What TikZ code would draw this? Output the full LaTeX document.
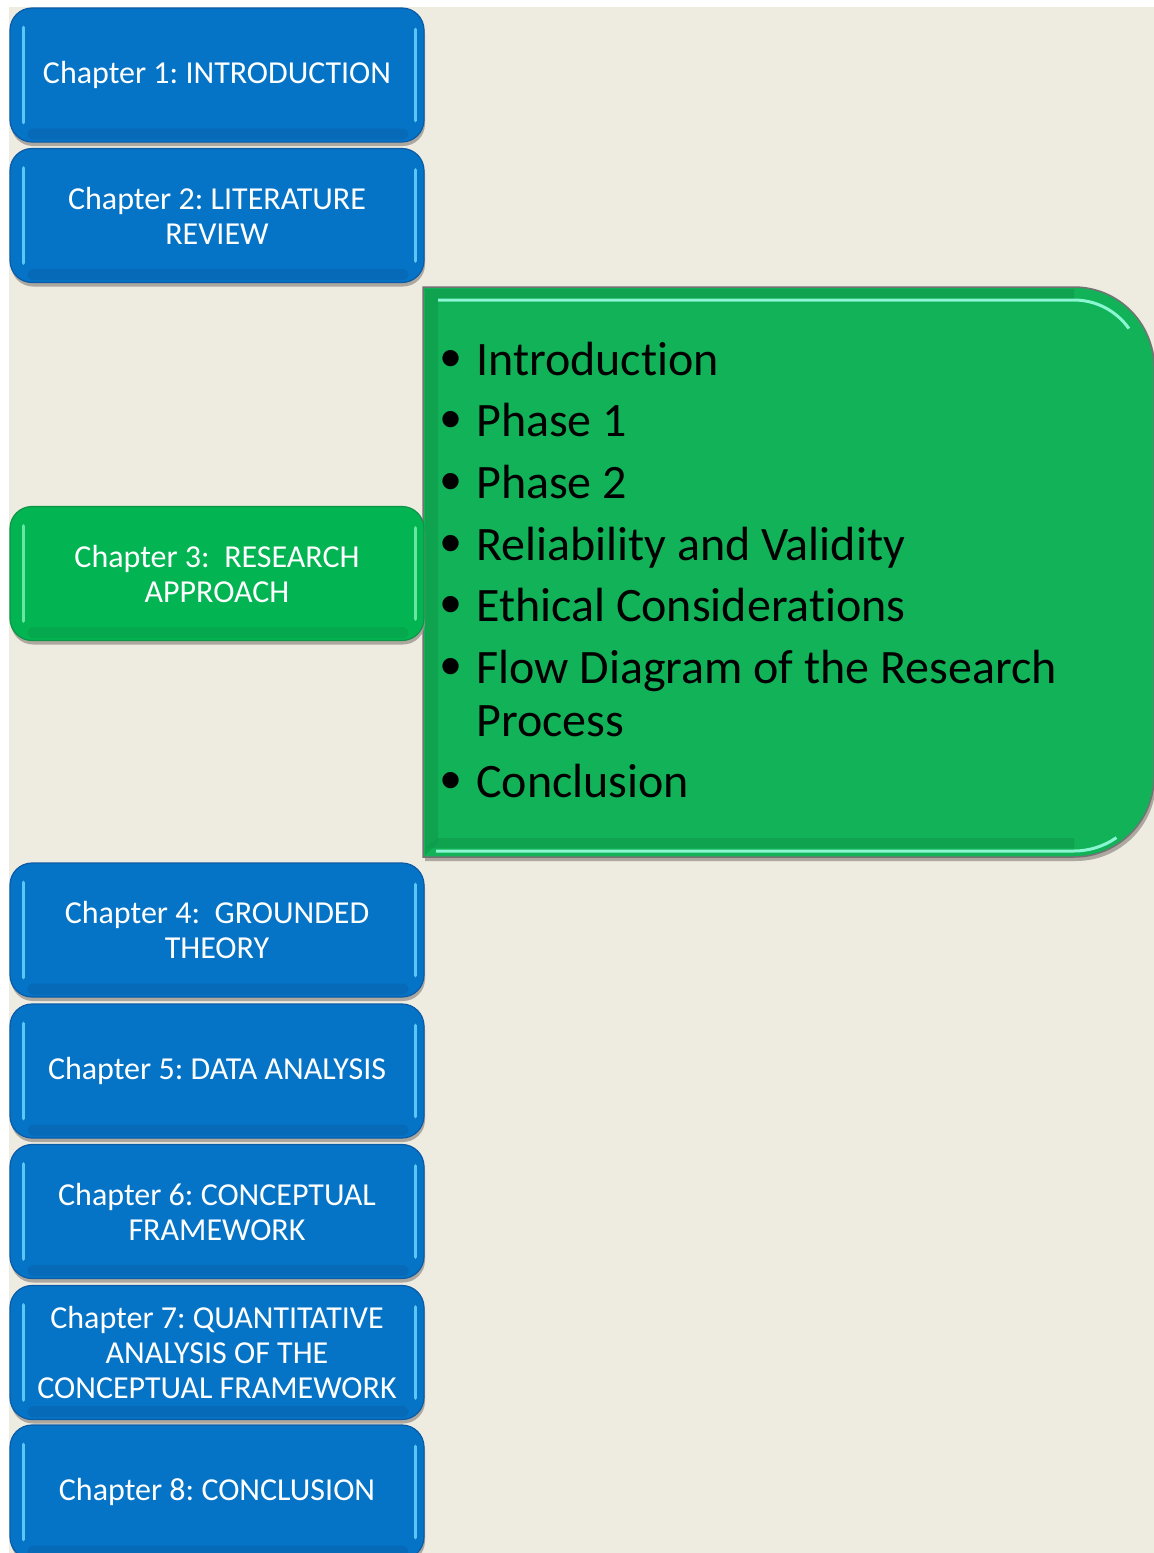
\documentclass[tikz,border=0pt]{standalone}
\usepackage{fontspec}
\setmainfont{Carlito}[Ligatures={NoCommon,NoContextual,NoRare}]
\newfontfamily\bulletfont{Liberation Sans}
\usetikzlibrary{shadows}
\frenchspacing

\definecolor{pagebeige}{HTML}{EEEBE0}
\definecolor{chapblue}{HTML}{0574C6}
\definecolor{chapblueedge}{HTML}{0B5BA6}
\definecolor{chapbluehi}{HTML}{5CC6F8}
\definecolor{chapbluelo}{HTML}{0A5FA8}
\definecolor{chapgreen}{HTML}{02B552}
\definecolor{chapgreenedge}{HTML}{0E9447}
\definecolor{chapgreenhi}{HTML}{66E8A2}
\definecolor{chapgreenlo}{HTML}{0A9A48}
\definecolor{panelgreen}{HTML}{12B258}
\definecolor{paneldark}{HTML}{0E9A4C}
\definecolor{panelmint}{HTML}{8AF7D2}
\definecolor{shadowc}{HTML}{9C9890}

% bevel highlights drawn over a chapter box
\newcommand\bevelhi[3]{%
  \fill[#3, opacity=.45, rounded corners=6pt]
    ([xshift=18pt,yshift=14pt]#1.south west) rectangle ([xshift=-16pt,yshift=3pt]#1.south east);
  \draw[#2, line width=3.5pt, line cap=round]
    ([xshift=14pt,yshift=-20pt]#1.north west) -- ([xshift=14pt,yshift=20pt]#1.south west);
  \draw[#2, line width=3.5pt, line cap=round]
    ([xshift=-9pt,yshift=-22pt]#1.north east) -- ([xshift=-9pt,yshift=22pt]#1.south east);
}

\begin{document}
\begin{tikzpicture}[x=1pt,y=-1pt,
  chap/.style={rounded corners=22pt, minimum width=414pt, minimum height=134pt,
    inner sep=0pt, align=center, text=white, line width=1.2pt,
    font=\fontsize{32}{35}\selectfont,
    drop shadow={shadow xshift=1pt, shadow yshift=-4pt, fill=shadowc, opacity=.8}},
  bluechap/.style={chap, fill=chapblue, draw=chapblueedge},
  greenchap/.style={chap, fill=chapgreen, draw=chapgreenedge},
  item/.style={anchor=base west, inner sep=0pt, text=black,
    font=\fontsize{48}{53}\selectfont},
]
\useasboundingbox (0,0) rectangle (1154,1553);
\clip (0,0) rectangle (1154,1553);
\fill[white] (0,0) rectangle (1154,1553);
\fill[pagebeige] (9,7) rectangle (1154,1553);

% detail panel for chapter 3
\fill[panelgreen, draw=black!55, line width=1.5pt,
      drop shadow={shadow xshift=2pt, shadow yshift=-4pt, fill=shadowc, opacity=.8}]
  (423,287) -- (1074,287) arc[start angle=90, end angle=0, radius=80pt]
  -- (1154,777) arc[start angle=0, end angle=-90, radius=80pt]
  -- (423,857) -- cycle;
\fill[paneldark, opacity=.6] (425,289) -- (438,302) -- (438,843) -- (425,855) -- cycle;
\fill[paneldark, opacity=.6] (425,289) -- (1074,289) -- (1074,302) -- (438,302) -- cycle;
\fill[paneldark, opacity=.6] (438,838) -- (1074,838) -- (1074,848) -- (425,848) -- cycle;
\draw[panelmint, line width=3pt] (438,300) -- (1074,300)
  arc[start angle=90, end angle=35, radius=67pt];
\draw[panelmint, line width=3pt] (436,851) -- (1074,851)
  arc[start angle=-90, end angle=-55, radius=74pt];

% chapter boxes
\node[bluechap]  (c1) at (217,75)    {Chapter 1: INTRODUCTION};
\node[bluechap]  (c2) at (217,215.5) {Chapter 2: LITERATURE\\REVIEW};
\node[greenchap] (c3) at (217,573.5) {Chapter 3:\ \ RESEARCH\\APPROACH};
\node[bluechap]  (c4) at (217,930)   {Chapter 4:\ \ GROUNDED\\THEORY};
\node[bluechap]  (c5) at (217,1071)  {Chapter 5: DATA ANALYSIS};
\node[bluechap]  (c6) at (217,1211.5){Chapter 6: CONCEPTUAL\\FRAMEWORK};
\node[bluechap]  (c7) at (217,1352.5){Chapter 7: QUANTITATIVE\\ANALYSIS OF THE\\CONCEPTUAL FRAMEWORK};
\node[bluechap]  (c8) at (217,1492)  {Chapter 8: CONCLUSION};

\bevelhi{c1}{chapbluehi}{chapbluelo}
\bevelhi{c2}{chapbluehi}{chapbluelo}
\bevelhi{c3}{chapgreenhi}{chapgreenlo}
\bevelhi{c4}{chapbluehi}{chapbluelo}
\bevelhi{c5}{chapbluehi}{chapbluelo}
\bevelhi{c6}{chapbluehi}{chapbluelo}
\bevelhi{c7}{chapbluehi}{chapbluelo}
\bevelhi{c8}{chapbluehi}{chapbluelo}

% section list of chapter 3
\newcommand\bul{\llap{\raisebox{-3.5pt}{\fontsize{60}{60}\bulletfont •}\hspace{14.5pt}}}
\node[item] (s1) at (476,375) {\bul Introduction};
\node[item] (s2) at (476,436) {\bul Phase 1};
\node[item] (s3) at (476,498) {\bul Phase 2};
\node[item] (s4) at (476,560) {\bul Reliability and Validity};
\node[item] (s5) at (476,621) {\bul Ethical Considerations};
\node[item] (s6) at (476,683) {\vtop{\baselineskip=53pt
  \hbox{\bul Flow Diagram of the Research}\hbox{Process}}};
\node[item] (s7) at (476,797) {\bul Conclusion};
\end{tikzpicture}
\end{document}
